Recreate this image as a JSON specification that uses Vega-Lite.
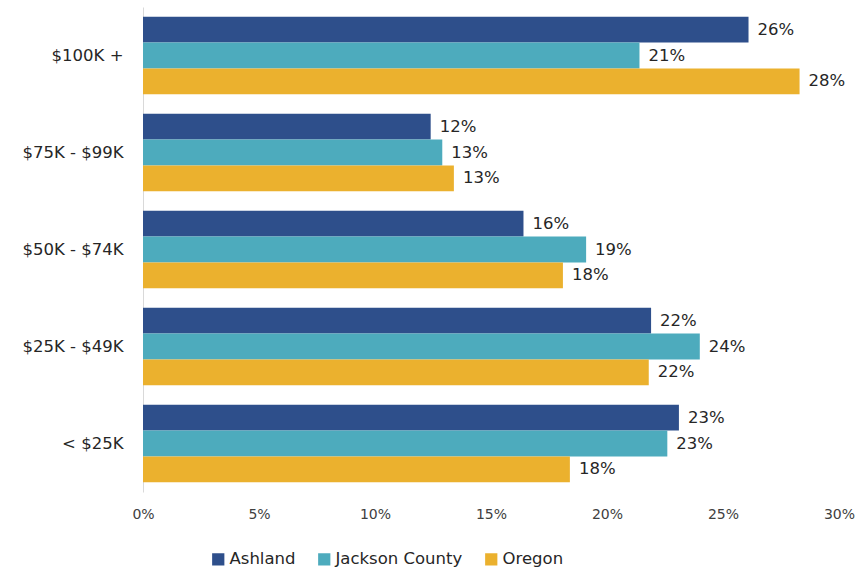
{
  "$schema": "https://vega.github.io/schema/vega-lite/v6.json",
  "width": 696,
  "height": 485,
  "autosize": "none",
  "padding": {"left": 143, "top": 7, "right": 24, "bottom": 80},
  "config": {"view": {"stroke": null}, "font": "DejaVu Sans"},
  "data": {
    "values": [
      {"income": "$100K +", "series": "Ashland", "value": 0.261},
      {"income": "$100K +", "series": "Jackson County", "value": 0.214},
      {"income": "$100K +", "series": "Oregon", "value": 0.283},
      {"income": "$75K - $99K", "series": "Ashland", "value": 0.124},
      {"income": "$75K - $99K", "series": "Jackson County", "value": 0.129},
      {"income": "$75K - $99K", "series": "Oregon", "value": 0.134},
      {"income": "$50K - $74K", "series": "Ashland", "value": 0.164},
      {"income": "$50K - $74K", "series": "Jackson County", "value": 0.191},
      {"income": "$50K - $74K", "series": "Oregon", "value": 0.181},
      {"income": "$25K - $49K", "series": "Ashland", "value": 0.219},
      {"income": "$25K - $49K", "series": "Jackson County", "value": 0.240},
      {"income": "$25K - $49K", "series": "Oregon", "value": 0.218},
      {"income": "< $25K", "series": "Ashland", "value": 0.231},
      {"income": "< $25K", "series": "Jackson County", "value": 0.226},
      {"income": "< $25K", "series": "Oregon", "value": 0.184}
    ]
  },
  "encoding": {
    "y": {
      "field": "income",
      "type": "nominal",
      "sort": ["$100K +", "$75K - $99K", "$50K - $74K", "$25K - $49K", "< $25K"],
      "scale": {"paddingInner": 0.2, "paddingOuter": 0.1},
      "axis": {
        "title": null,
        "ticks": false,
        "domainColor": "#d9d9d9",
        "domainWidth": 1,
        "labelFontSize": 16.5,
        "labelColor": "#262626",
        "labelPadding": 20
      }
    },
    "yOffset": {"field": "series", "type": "nominal", "sort": ["Ashland", "Jackson County", "Oregon"]},
    "x": {
      "field": "value",
      "type": "quantitative",
      "scale": {"domain": [0, 0.3]},
      "axis": {
        "title": null,
        "format": ".0%",
        "values": [0, 0.05, 0.1, 0.15, 0.2, 0.25, 0.3],
        "grid": false,
        "domain": false,
        "ticks": false,
        "labelFlush": false,
        "labelFontSize": 14,
        "labelColor": "#404040",
        "labelPadding": 15
      }
    }
  },
  "layer": [
    {
      "mark": {"type": "bar"},
      "encoding": {
        "color": {
          "field": "series",
          "type": "nominal",
          "sort": ["Ashland", "Jackson County", "Oregon"],
          "scale": {"domain": ["Ashland", "Jackson County", "Oregon"], "range": ["#2E4F8B", "#4DABBD", "#EBB12E"]},
          "legend": {
            "title": null,
            "orient": "none",
            "direction": "horizontal",
            "legendX": 67,
            "legendY": 544,
            "symbolType": "square",
            "symbolSize": 150,
            "symbolStrokeWidth": 0,
            "labelFontSize": 16.5,
            "labelColor": "#262626",
            "labelOffset": 3,
            "columnPadding": 20
          }
        }
      }
    },
    {
      "mark": {"type": "text", "align": "left", "baseline": "middle", "dx": 9, "fontSize": 16.5, "color": "#262626"},
      "encoding": {
        "text": {"field": "value", "type": "quantitative", "format": ".0%"}
      }
    }
  ]
}
